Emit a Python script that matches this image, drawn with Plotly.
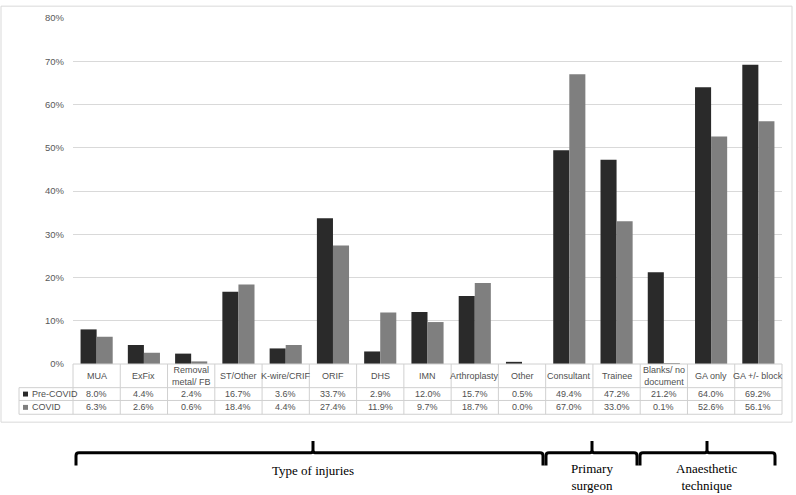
import plotly.graph_objects as go

categories = ["MUA", "ExFix", "Removal<br>metal/ FB", "ST/Other", "K-wire/CRIF", "ORIF", "DHS", "IMN",
              "Arthroplasty", "Other", "Consultant", "Trainee", "Blanks/ no<br>document", "GA only", "GA +/- block"]
pre_covid = [8.0, 4.4, 2.4, 16.7, 3.6, 33.7, 2.9, 12.0, 15.7, 0.5, 49.4, 47.2, 21.2, 64.0, 69.2]
covid = [6.3, 2.6, 0.6, 18.4, 4.4, 27.4, 11.9, 9.7, 18.7, 0.0, 67.0, 33.0, 0.1, 52.6, 56.1]
series_names = ["Pre-COVID", "COVID"]
group_labels = ["Type of injuries", "Primary<br>surgeon", "Anaesthetic<br>technique"]

W, H = 796, 495
L, R, T, B = 73, 14, 13, 131
PW, PH = W - L - R, H - T - B
N = len(categories)

def px(x):
    return (x - L) / PW

def py(y):
    return (H - B - y) / PH

dark = "#2a2a2a"
gray = "#7f7f7f"
line_c = "#d0d0d0"
txt_c = "#505050"
tfont = "Liberation Sans Narrow, Arial Narrow, Liberation Sans"

fig = go.Figure()
fig.add_trace(go.Bar(x=list(range(N)), y=[v / 100 for v in pre_covid], name=series_names[0],
                     marker=dict(color=dark, line=dict(width=0))))
fig.add_trace(go.Bar(x=list(range(N)), y=[v / 100 for v in covid], name=series_names[1],
                     marker=dict(color=gray, line=dict(width=0))))

shapes = []
ann = []
# outer frame
shapes.append(dict(type="rect", xref="paper", yref="paper", x0=px(1), x1=px(792), y0=py(423), y1=py(1),
                   line=dict(color="#d9d9d9", width=1), layer="below"))
# table lines
y_top, y_h, y_r1, y_bot = 364, 388, 401, 415
for i in range(N + 1):
    xx = px(L + PW * i / N)
    shapes.append(dict(type="line", xref="paper", yref="paper", x0=xx, x1=xx, y0=py(y_top), y1=py(y_bot),
                       line=dict(color=line_c, width=1)))
shapes.append(dict(type="line", xref="paper", yref="paper", x0=px(19), x1=px(19), y0=py(y_h), y1=py(y_bot),
                   line=dict(color=line_c, width=1)))
shapes.append(dict(type="line", xref="paper", yref="paper", x0=px(L), x1=px(782), y0=py(y_top), y1=py(y_top),
                   line=dict(color=line_c, width=1)))
for yy in (y_h, y_r1, y_bot):
    shapes.append(dict(type="line", xref="paper", yref="paper", x0=px(19), x1=px(782), y0=py(yy), y1=py(yy),
                       line=dict(color=line_c, width=1)))
# legend keys
for k, (c, yc) in enumerate([(dark, 394.5), (gray, 408)]):
    shapes.append(dict(type="rect", xref="paper", yref="paper", x0=px(23), x1=px(28), y0=py(yc + 2.5),
                       y1=py(yc - 2.5), line=dict(width=0), fillcolor=c))
    ann.append(dict(x=px(30), y=py(yc), xref="paper", yref="paper", text=series_names[k], showarrow=False,
                    xanchor="left", yanchor="middle", font=dict(family=tfont, size=9, color=txt_c)))

for i, cat in enumerate(categories):
    xc = (i + 0.5) / N
    ann.append(dict(x=xc, y=py(376), xref="paper", yref="paper", text=cat, showarrow=False,
                    xanchor="center", yanchor="middle", font=dict(family=tfont, size=9, color=txt_c)))
    ann.append(dict(x=xc, y=py(394.5), xref="paper", yref="paper", text=f"{pre_covid[i]:.1f}%", showarrow=False,
                    xanchor="center", yanchor="middle", font=dict(family=tfont, size=9, color=txt_c)))
    ann.append(dict(x=xc, y=py(408), xref="paper", yref="paper", text=f"{covid[i]:.1f}%", showarrow=False,
                    xanchor="center", yanchor="middle", font=dict(family=tfont, size=9, color=txt_c)))

# braces
def brace(x0, x1, xt):
    yl, ye, yt = 454, 467, 442
    p = (f"M {px(x0)},{py(ye)} L {px(x0)},{py(yl + 3)} Q {px(x0)},{py(yl)} {px(x0 + 3)},{py(yl)} "
         f"L {px(xt - 2)},{py(yl)} Q {px(xt)},{py(yl)} {px(xt)},{py(yl - 3)} L {px(xt)},{py(yt)} "
         f"M {px(xt)},{py(yl - 3)} Q {px(xt)},{py(yl)} {px(xt + 2)},{py(yl)} "
         f"L {px(x1 - 3)},{py(yl)} Q {px(x1)},{py(yl)} {px(x1)},{py(yl + 3)} L {px(x1)},{py(ye)}")
    return dict(type="path", xref="paper", yref="paper", path=p, line=dict(color="black", width=3))

braces = [(76, 543, 313), (546, 637, 592), (640, 775, 707)]
label_y = [472, 479, 479]
for (x0, x1, xt), lab, ly in zip(braces, group_labels, label_y):
    shapes.append(brace(x0, x1, xt))
    ann.append(dict(x=px(xt), y=py(ly), xref="paper", yref="paper", text=lab, showarrow=False,
                    xanchor="center", yanchor="middle",
                    font=dict(family="Liberation Serif, Times New Roman", size=13, color="black")))

fig.update_layout(
    width=W, height=H, margin=dict(l=L, r=R, t=T, b=B),
    plot_bgcolor="white", paper_bgcolor="white",
    barmode="group", bargap=0.32, bargroupgap=0,
    showlegend=False, shapes=shapes, annotations=ann,
    xaxis=dict(range=[-0.5, N - 0.5], showticklabels=False, showgrid=False, zeroline=False,
               showline=False, ticks=""),
    yaxis=dict(range=[0, 0.8], dtick=0.1, tickformat=".0%", showgrid=True, gridcolor="#d9d9d9",
               gridwidth=1, zeroline=False, showline=False, ticks="", ticklabelstandoff=8,
               tickfont=dict(family=tfont, size=9.5, color="#595959")),
)
fig.write_html("out.html", config={"displayModeBar": False},
               post_script="document.body.style.margin='0px';document.body.style.overflow='hidden';")
